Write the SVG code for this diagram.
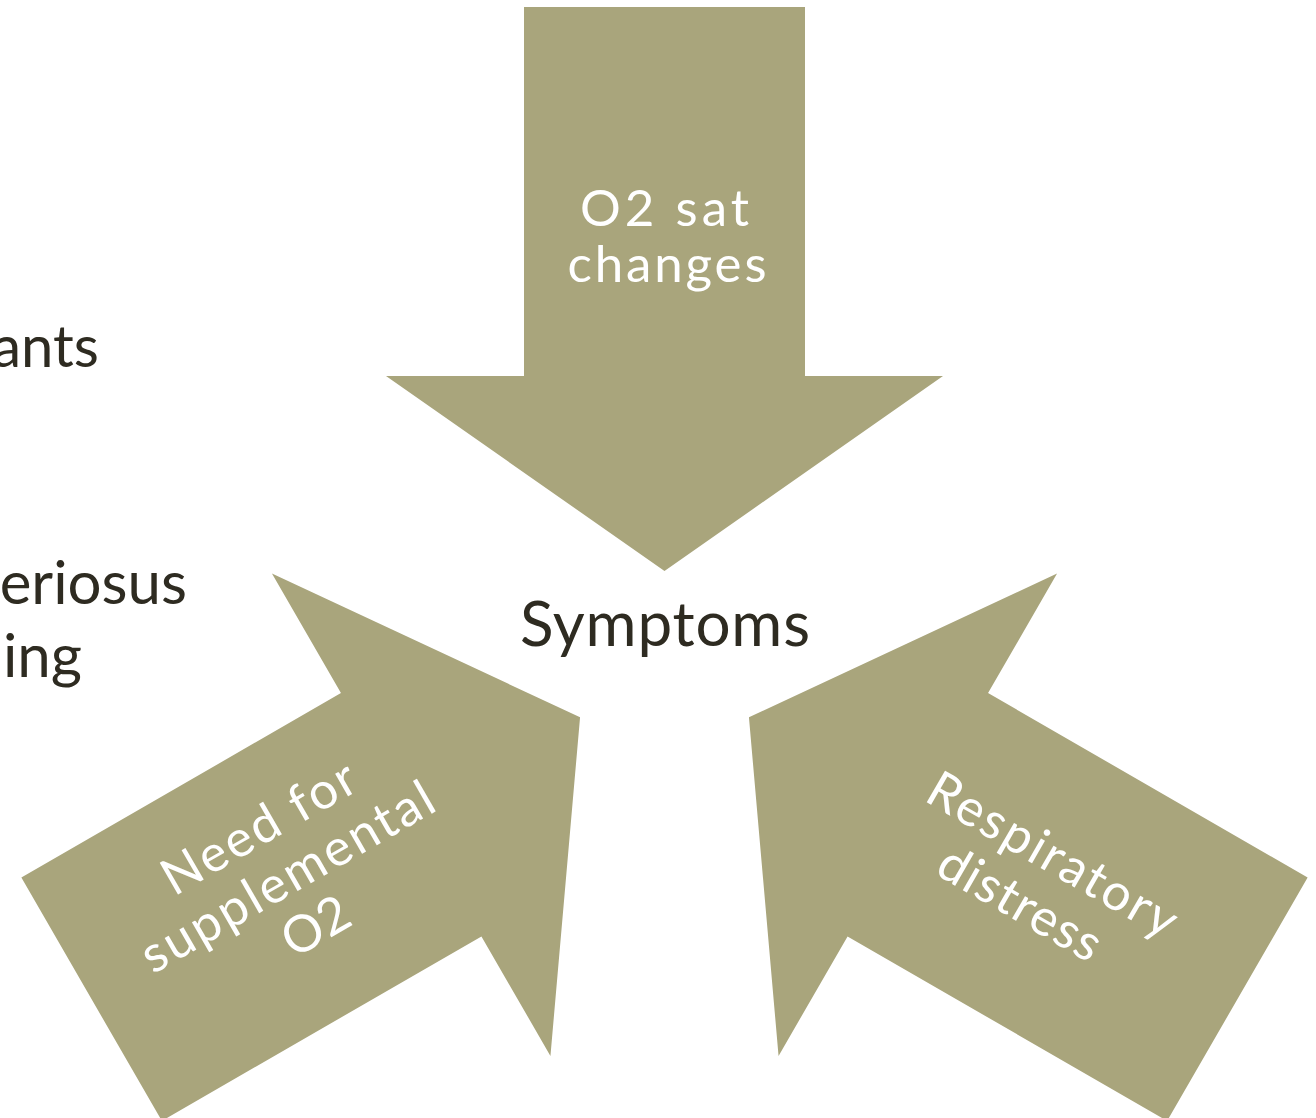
<svg xmlns="http://www.w3.org/2000/svg" xmlns:xlink="http://www.w3.org/1999/xlink" width="1316" height="1118" viewBox="0 0 1316 1118">
  <style>
    .arrow { fill: #A9A57C; }
    .lbl { font-family: Lato, "Liberation Sans", sans-serif; font-size: 51px; fill: #FFFFFF; text-anchor: middle; }
    .dark { font-family: Lato, "Liberation Sans", sans-serif; fill: #2E2B21; }
  </style>
  <defs>
    <polygon id="arrowShape" points="524,7 805,7 805,376 943,376 664.5,571 386,376 524,376"/>
  </defs>
  <rect x="0" y="0" width="1316" height="1118" fill="#FFFFFF"/>

  <g id="background-text">
    <text class="dark" x="99" y="367" font-size="58" text-anchor="end">ants</text>
    <text class="dark" x="187" y="604" font-size="60" text-anchor="end">eriosus</text>
    <text class="dark" x="82" y="677" font-size="60" text-anchor="end">ing</text>
  </g>

  <g id="connectors"></g>

  <g id="node-o2-sat">
    <use xlink:href="#arrowShape" class="arrow"/>
    <text class="lbl" x="664.5" y="226" textLength="169">O2 sat</text>
    <text class="lbl" x="667" y="282" textLength="199">changes</text>
  </g>

  <g id="node-supplemental">
    <use xlink:href="#arrowShape" class="arrow" transform="rotate(-120 664.5 668.5)"/>
    <g transform="translate(296 892) rotate(-30)">
      <text class="lbl" x="0" y="-57" textLength="216">Need for</text>
      <text class="lbl" x="0" y="0" textLength="330">supplemental</text>
      <text class="lbl" x="0" y="57">O2</text>
    </g>
  </g>

  <g id="node-respiratory">
    <use xlink:href="#arrowShape" class="arrow" transform="rotate(120 664.5 668.5)"/>
    <g transform="translate(1044 870) rotate(30)">
      <text class="lbl" x="0" y="0" textLength="280">Respiratory</text>
      <text class="lbl" x="-4" y="58" textLength="180">distress</text>
    </g>
  </g>

  <g id="node-symptoms">
    <text class="dark" x="665" y="646" font-size="62" text-anchor="middle" textLength="290">Symptoms</text>
  </g>
</svg>
